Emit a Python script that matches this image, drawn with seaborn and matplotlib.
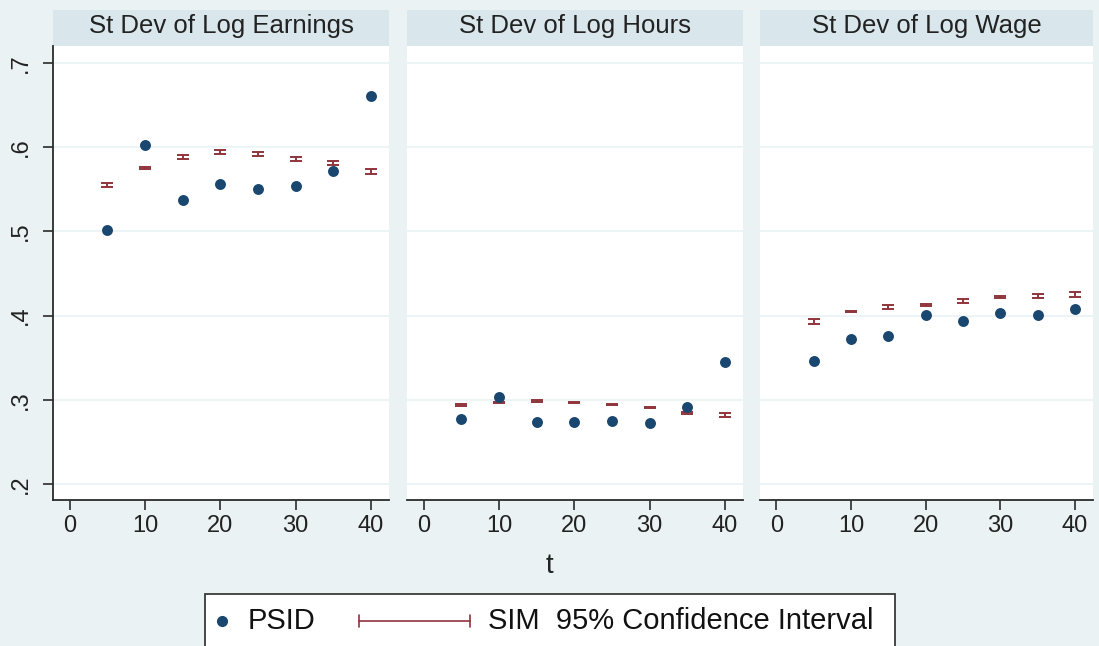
import numpy as np
import pandas as pd
import matplotlib
matplotlib.use("Agg")
import matplotlib.pyplot as plt
from matplotlib.patches import Rectangle
from matplotlib.lines import Line2D
import seaborn as sns

# ---------------- data ----------------
panels = ["St Dev of Log Earnings", "St Dev of Log Hours", "St Dev of Log Wage"]
t_vals = [5, 10, 15, 20, 25, 30, 35, 40]

psid_earn = [0.502, 0.602, 0.537, 0.556, 0.550, 0.554, 0.571, 0.660]
psid_hours = [0.277, 0.304, 0.274, 0.274, 0.275, 0.273, 0.292, 0.345]
psid_wage = [0.346, 0.372, 0.376, 0.401, 0.394, 0.403, 0.401, 0.408]

sim_earn = [0.555, 0.575, 0.588, 0.594, 0.592, 0.586, 0.581, 0.571]
sim_hours = [0.294, 0.297, 0.299, 0.297, 0.295, 0.291, 0.285, 0.282]
sim_wage = [0.393, 0.405, 0.410, 0.413, 0.417, 0.422, 0.423, 0.425]

ci_earn = [0.0025, 0.0010, 0.0025, 0.0025, 0.0025, 0.0025, 0.0028, 0.0030]
ci_hours = [0.0010, 0.0008, 0.0008, 0.0008, 0.0008, 0.0010, 0.0012, 0.0025]
ci_wage = [0.0025, 0.0010, 0.0025, 0.0010, 0.0025, 0.0010, 0.0025, 0.0025]

y_ticks = [0.2, 0.3, 0.4, 0.5, 0.6, 0.7]
y_tick_labels = [".2", ".3", ".4", ".5", ".6", ".7"]
x_ticks = [0, 10, 20, 30, 40]
x_tick_labels = ["0", "10", "20", "30", "40"]

legend_labels = ["PSID", "SIM  95% Confidence Interval"]
x_title = "t"

frames = []
for name, p, s, c in zip(panels,
                         [psid_earn, psid_hours, psid_wage],
                         [sim_earn, sim_hours, sim_wage],
                         [ci_earn, ci_hours, ci_wage]):
    frames.append(pd.DataFrame({"panel": name, "t": t_vals, "psid": p,
                                "sim": s, "ci": c}))
df = pd.concat(frames, ignore_index=True)

# ---------------- style ----------------
sns.set_style("white")
plt.rcParams["font.family"] = ["Liberation Sans", "DejaVu Sans"]

BG = "#EAF2F3"
STRIP = "#D9E6EB"
NAVY = "#1A476F"
MAROON = "#90353B"
GRID = "#EAF2F3"
AXC = "#2b2b2b"

W, H = 1099, 646
fig = plt.figure(figsize=(W / 100, H / 100), dpi=100, facecolor=BG)

def rect(l, r, top, bot):
    return [l / W, 1 - bot / H, (r - l) / W, (bot - top) / H]

edges = [(53, 389), (407, 743), (760, 1093)]
TOP, BOT = 46, 500

for i, (name, (l, r)) in enumerate(zip(panels, edges)):
    ax = fig.add_axes(rect(l, r, TOP, BOT))
    ax.set_facecolor("white")
    sub = df[df["panel"] == name]

    ax.errorbar(sub["t"], sub["sim"], yerr=sub["ci"], fmt="none",
                ecolor=MAROON, elinewidth=1.4, capsize=4.6, capthick=1.4,
                zorder=3)
    sns.scatterplot(data=sub, x="t", y="psid", ax=ax, color=NAVY, s=62,
                    linewidth=0, zorder=4, legend=False)

    ax.set_xlim(-2.2, 42.4)
    ax.set_ylim(0.1814, 0.7198)
    ax.set_yticks(y_ticks)
    ax.set_xticks(x_ticks)
    ax.set_xticklabels(x_tick_labels, fontsize=17)
    ax.set_xlabel("")
    ax.set_ylabel("")
    ax.grid(axis="y", color=GRID, linewidth=1.2)
    ax.grid(axis="x", visible=False)
    ax.set_axisbelow(True)

    for sp in ["top", "right"]:
        ax.spines[sp].set_visible(False)
    ax.spines["bottom"].set_color(AXC)
    ax.spines["bottom"].set_linewidth(1.3)
    ax.tick_params(axis="x", direction="out", length=7, width=1.2,
                   color=AXC, pad=4, labelcolor="#222222", bottom=True)
    if i == 0:
        ax.spines["left"].set_color(AXC)
        ax.spines["left"].set_linewidth(1.3)
        ax.set_yticklabels(y_tick_labels, fontsize=17, rotation=90,
                           va="center")
        ax.tick_params(axis="y", direction="out", length=7, width=1.2,
                       color=AXC, pad=8, labelcolor="#222222", left=True)
    else:
        ax.spines["left"].set_visible(False)
        ax.tick_params(axis="y", left=False, labelleft=False)

    # strip title
    strip_h = (TOP - 10) / (BOT - TOP)
    ax.add_patch(Rectangle((0, 1.0), 1, strip_h, transform=ax.transAxes,
                           facecolor=STRIP, edgecolor="none", clip_on=False))
    ax.text(0.5, (BOT - 33) / (BOT - TOP), name, transform=ax.transAxes,
            ha="center", va="baseline", fontsize=18.5, color="#222222")

fig.text(0.5, 1 - 566 / H, x_title, ha="center", va="center",
         fontsize=20, color="#222222")

# ---------------- legend (bottom box) ----------------
def fx(x):
    return x / W

def fy(y):
    return 1 - y / H

fig.patches.append(Rectangle((fx(205), fy(660)), fx(895) - fx(205),
                             fy(594) - fy(660), transform=fig.transFigure,
                             facecolor="white", edgecolor="#3a3a3a",
                             linewidth=1.3))
ly = 621
fig.add_artist(Line2D([fx(222)], [fy(ly)], marker="o", markersize=7,
                      color=NAVY, linestyle="none",
                      transform=fig.transFigure))
fig.text(fx(248), fy(ly), legend_labels[0], ha="left", va="center",
         fontsize=21, color="#111111")
fig.add_artist(Line2D([fx(359), fx(470)], [fy(ly), fy(ly)], color=MAROON,
                      linewidth=1.2, transform=fig.transFigure))
for xx in (359, 470):
    fig.add_artist(Line2D([fx(xx), fx(xx)], [fy(ly - 6), fy(ly + 6)],
                          color=MAROON, linewidth=1.2,
                          transform=fig.transFigure))
fig.text(fx(488), fy(ly), legend_labels[1], ha="left", va="center",
         fontsize=21, color="#111111")

fig.savefig("out.png", dpi=100, facecolor=BG)
